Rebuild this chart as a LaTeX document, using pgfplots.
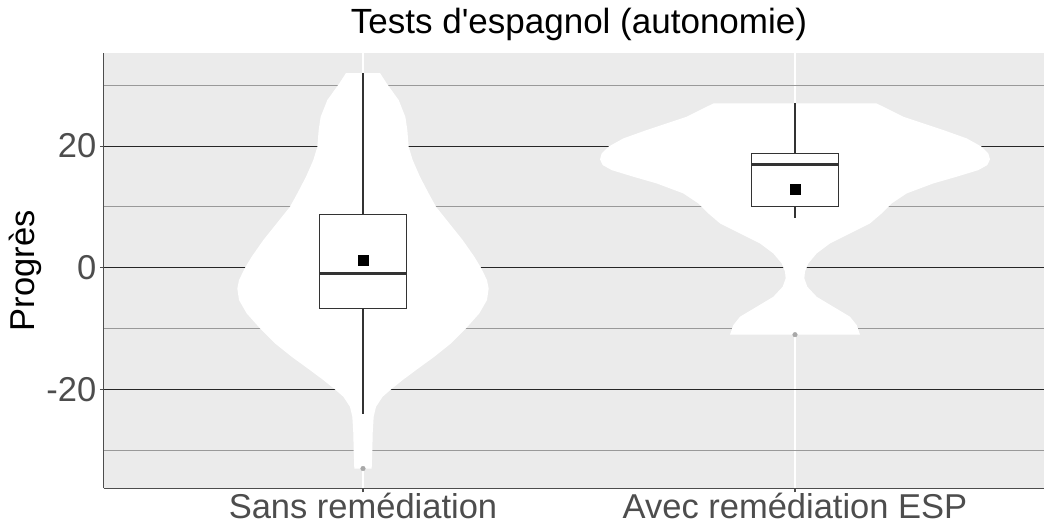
\documentclass[border=0pt]{standalone}
\usepackage{fontspec}
\setmainfont{Liberation Sans}
\newfontfamily\lsans{Liberation Sans}
\usepackage{pgfplots}
\pgfplotsset{compat=1.18}
\definecolor{panel}{HTML}{EBEBEB}
\definecolor{ticktxt}{HTML}{4D4D4D}
\definecolor{boxline}{HTML}{333333}
\definecolor{outl}{HTML}{A8A8A8}
\begin{document}
\begin{tikzpicture}
\begin{axis}[
  at={(103.8pt,35.7pt)}, anchor=south west,
  scale only axis, width=940.2pt, height=435pt,
  xmin=0.4, xmax=2.5764, ymin=-36.25, ymax=35.25,
  axis background/.style={fill=panel},
  axis x line*=bottom, axis y line*=left,
  axis line style={draw=ticktxt, line width=1.1pt},
  xtick={1,2}, xticklabels={Sans remédiation, Avec remédiation ESP},
  ytick={-20,0,20}, yticklabels={-20,0,20},
  minor ytick={-30,-10,10,30},
  xmajorgrids, ymajorgrids, yminorgrids,
  major x grid style={white, line width=1.3pt},
  major y grid style={black!85, line width=1.1pt},
  minor y grid style={black!40, line width=1.1pt},
  tick align=outside, major tick length=4pt, minor tick length=0pt,
  tick style={draw=ticktxt, line width=1.1pt},
  ticklabel style={font=\lsans\fontsize{34.5}{40}\selectfont, text=ticktxt},
  xticklabel style={inner sep=0pt, text depth=0pt, yshift=-0.5pt},
]
% violins
\addplot[fill=white, draw=none] coordinates {
(1.0201,-33) (1.0216,-29.97) (1.0224,-27.2) (1.0247,-24.5) (1.0301,-22.85) (1.0455,-21.2) (1.0648,-20) (1.0918,-18.46) (1.1227,-16.82) (1.1651,-14.63) (1.2037,-12.44) (1.2384,-9.97) (1.2693,-7.5) (1.2870,-5.31) (1.2909,-3.4) (1.2870,-2.03) (1.2731,0) (1.2577,1.81) (1.2307,4.55) (1.1998,7.29) (1.1690,10.03) (1.1520,12.22) (1.1319,14.96) (1.1150,17.7) (1.1057,19.89) (1.1026,22.63) (1.0980,24.82) (1.0826,27.56) (1.0548,30.3) (1.0394,32)
(0.9606,32) (0.9452,30.3) (0.9174,27.56) (0.9020,24.82) (0.8974,22.63) (0.8943,19.89) (0.8850,17.7) (0.8681,14.96) (0.8480,12.22) (0.8310,10.03) (0.8002,7.29) (0.7693,4.55) (0.7423,1.81) (0.7269,0) (0.7130,-2.03) (0.7091,-3.4) (0.7130,-5.31) (0.7307,-7.5) (0.7616,-9.97) (0.7963,-12.44) (0.8349,-14.63) (0.8773,-16.82) (0.9082,-18.46) (0.9352,-20) (0.9545,-21.2) (0.9699,-22.85) (0.9753,-24.5) (0.9776,-27.2) (0.9784,-29.97) (0.9799,-33)
} -- cycle;
\addplot[fill=white, draw=none] coordinates {
(2.1505,-11) (2.1428,-9.42) (2.1273,-8.05) (2.0887,-6.41) (2.0502,-4.77) (2.0285,-3.12) (2.0216,-1.75) (2.0231,-0.66) (2.0308,0.71) (2.0502,2.36) (2.0810,4) (2.1273,5.64) (2.1736,7.29) (2.2006,8.93) (2.2238,10.58) (2.2585,12.22) (2.3202,13.86) (2.3742,14.96) (2.4244,16.05) (2.4452,16.88) (2.4514,17.81) (2.4475,18.79) (2.4321,19.89) (2.3974,21.26) (2.3434,22.63) (2.2971,23.72) (2.2508,24.82) (2.2199,25.92) (2.1890,27)
(1.8110,27) (1.7801,25.92) (1.7492,24.82) (1.7029,23.72) (1.6566,22.63) (1.6026,21.26) (1.5679,19.89) (1.5525,18.79) (1.5486,17.81) (1.5548,16.88) (1.5756,16.05) (1.6258,14.96) (1.6798,13.86) (1.7415,12.22) (1.7762,10.58) (1.7994,8.93) (1.8264,7.29) (1.8727,5.64) (1.9190,4) (1.9498,2.36) (1.9692,0.71) (1.9769,-0.66) (1.9784,-1.75) (1.9715,-3.12) (1.9498,-4.77) (1.9113,-6.41) (1.8727,-8.05) (1.8572,-9.42) (1.8495,-11)
} -- cycle;
% boxplot 1: whiskers, box, median
\addplot[draw=boxline, line width=1.1pt] coordinates {(1,8.78) (1,32)};
\addplot[draw=boxline, line width=1.1pt] coordinates {(1,-6.68) (1,-24)};
\addplot[draw=boxline, fill=white, line width=1.1pt] coordinates {(0.9,-6.68) (1.1,-6.68) (1.1,8.78) (0.9,8.78)} -- cycle;
\addplot[draw=boxline, line width=2.4pt] coordinates {(0.9,-0.93) (1.1,-0.93)};
% boxplot 2
\addplot[draw=boxline, line width=1.1pt] coordinates {(2,18.8) (2,27)};
\addplot[draw=boxline, line width=1.1pt] coordinates {(2,10.0) (2,8.1)};
\addplot[draw=boxline, fill=white, line width=1.1pt] coordinates {(1.9,10.0) (2.1,10.0) (2.1,18.8) (1.9,18.8)} -- cycle;
\addplot[draw=boxline, line width=2.4pt] coordinates {(1.9,17.0) (2.1,17.0)};
% means
\addplot[only marks, mark=square*, mark size=5pt, black] coordinates {(1,1.26) (2,12.88)};
% outliers
\addplot[only marks, mark=*, mark size=2.3pt, color=outl, mark options={draw=none}] coordinates {(1,-33) (2,-11)};
\end{axis}
\node[anchor=base, font=\lsans\fontsize{35}{40}\selectfont] at (579pt,490.7pt) {Tests d'espagnol (autonomie)};
\node[rotate=90, anchor=base, font=\lsans\fontsize{34.5}{40}\selectfont] at (34pt,253.2pt) {Progrès};
\pgfresetboundingbox
\useasboundingbox (0,0) rectangle (1044pt,524pt);
\end{tikzpicture}
\end{document}
